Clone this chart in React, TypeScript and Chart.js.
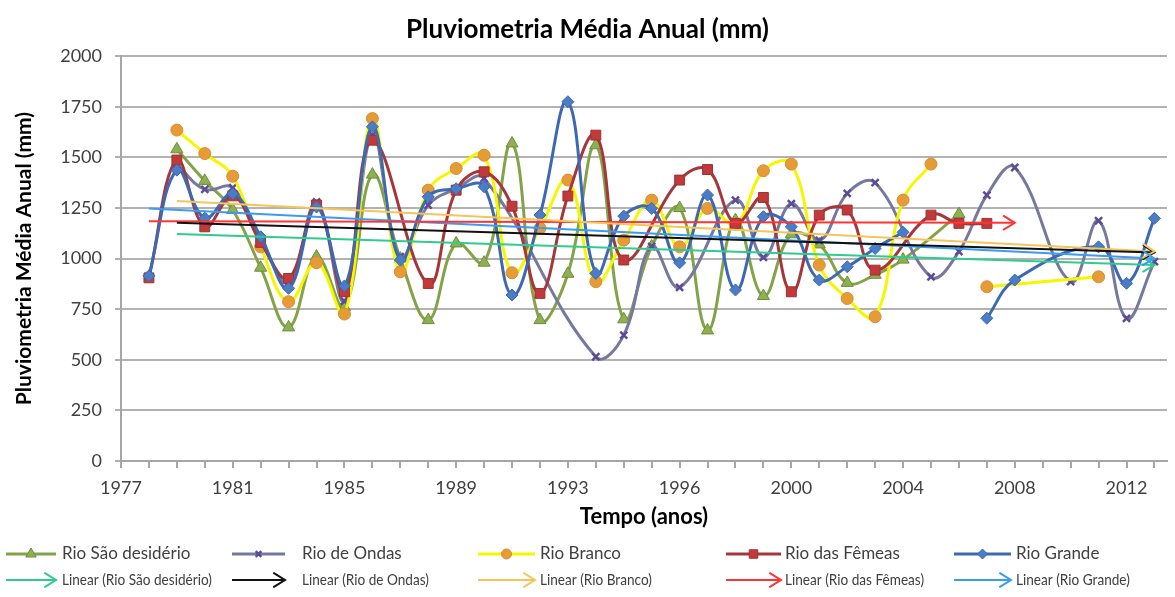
import React, { useEffect, useRef } from 'react';
import { Chart, registerables } from 'chart.js';
import { drawPoint } from 'chart.js/helpers';

Chart.register(...registerables);

// U = no reading for that year: the drawn line simply continues over it.
// null = gap in the series: the line breaks.
const U = undefined;

// One category per tick mark on the time axis (the source axis has an extra step between 1993 and 1996).
const categories = [
  '1977', '1978', '1979', '1980', '1981', '1982', '1983', '1984', '1985', '1986',
  '1987', '1988', '1989', '1990', '1991', '1992', '1993', '1994', '1995', '1995',
  '1996', '1997', '1998', '1999', '2000', '2001', '2002', '2003', '2004', '2005',
  '2006', '2007', '2008', '2009', '2010', '2011', '2012', '2013',
];

const seriesNames = ['Rio São desidério', 'Rio de Ondas', 'Rio Branco', 'Rio das Fêmeas', 'Rio Grande'];

const rioSaoDesiderio = [
  U, U, 1540, 1384, 1240, 955, 660, 1010, 760, 1415,
  1000, 696, 1075, 980, 1569, 696, 925, 1560, 700, 1060,
  1250, 645, 1190, 815, 1120, 1070, 880, 920, 995, U,
  1220, U, U, U, U, U, U, U,
];

const rioDeOndas = [
  U, U, 1465, 1342, 1350, 1090, 880, 1280, 790, 1610,
  1010, 1264, 1345, 1396, U, U, U, 515, 622, 1060,
  858, U, 1289, 1006, 1272, 1090, 1322, 1375, U, 910,
  1035, 1314, 1450, U, 886, 1187, 705, 985,
];

const rioBranco = [
  U, U, 1635, 1519, 1407, 1058, 787, 980, 726, 1692,
  935, 1338, 1445, 1511, 930, 1150, 1388, 886, 1091, 1289,
  1058, 1248, 1170, 1434, 1467, 968, 803, 713, 1289, 1467,
  null, 861, U, U, U, 910, U, U,
];

const rioDasFemeas = [
  U, 905, 1487, 1157, 1310, 1080, 902, 1265, 836, 1585,
  U, 877, 1338, 1429, 1259, 828, 1309, 1610, 993, U,
  1388, 1440, 1174, 1302, 836, 1215, 1240, 943, U, 1215,
  1174, 1174, U, U, U, U, U, U,
];

const rioGrande = [
  U, 915, 1437, 1200, 1320, 1108, 853, 1255, 865, 1651,
  993, 1305, 1345, 1355, 820, 1215, 1775, 927, 1210, 1248,
  979, 1314, 845, 1207, 1157, 894, 960, 1050, 1130, null,
  null, 705, 894, U, U, 1058, 878, 1199,
];

// Linear trend lines (start / end of each arrow)
const trendNames = seriesNames.map((n) => `Linear (${n})`);
const trendStartYear = ['1979', '1979', '1979', '1978', '1978'];
const trendEndYear = ['2013', '2013', '2013', '2008', '2013'];
const trendStartValue = [1121, 1177, 1285, 1185, 1248];
const trendEndValue = [968, 1030, 1035, 1177, 1000];

const yTicks = { min: 0, max: 2000, step: 250 };

const seriesValues = [rioSaoDesiderio, rioDeOndas, rioBranco, rioDasFemeas, rioGrande];

const seriesStyle = [
  { line: '#84A348', fill: '#8DB151', border: '#6F8C3C', point: 'triangle', radius: 7, bw: 1 },
  { line: '#77789F', fill: '#5C4B96', border: '#5C4B96', point: 'crossRot', radius: 5, bw: 2.5 },
  { line: '#F6F600', fill: '#E59C37', border: '#D88C2C', point: 'circle', radius: 6, bw: 1 },
  { line: '#A5373A', fill: '#C0393B', border: '#A3302F', point: 'rect', radius: 7, bw: 1 },
  { line: '#3D69B2', fill: '#4A7DC6', border: '#3A68AE', point: 'rectRot', radius: 6, bw: 1 },
];
const trendColors = ['#2FCB8F', '#111111', '#F5C45A', '#FF3434', '#3A9BF0'];
const drawOrder = [5, 4, 3, 2, 1];

const FONT = 'Lato';

function toPoints(values: (number | null | undefined)[]) {
  const pts: { x: number; y: number | null }[] = [];
  values.forEach((v, i) => {
    if (v !== undefined) pts.push({ x: i, y: v });
  });
  return pts;
}

function drawArrowHead(ctx: CanvasRenderingContext2D, x: number, y: number, angle: number, color: string, width: number) {
  const L = 13;
  const spread = 0.55;
  ctx.save();
  ctx.strokeStyle = color;
  ctx.lineWidth = width;
  ctx.lineCap = 'round';
  ctx.beginPath();
  ctx.moveTo(x - L * Math.cos(angle - spread), y - L * Math.sin(angle - spread));
  ctx.lineTo(x, y);
  ctx.lineTo(x - L * Math.cos(angle + spread), y - L * Math.sin(angle + spread));
  ctx.stroke();
  ctx.restore();
}

const arrowPlugin = {
  id: 'trendArrows',
  afterDatasetsDraw(chart: any) {
    const ctx = chart.ctx as CanvasRenderingContext2D;
    chart.data.datasets.forEach((d: any, i: number) => {
      if (!d.isTrend) return;
      const pts = chart.getDatasetMeta(i).data;
      const a = pts[0];
      const b = pts[pts.length - 1];
      const ang = Math.atan2(b.y - a.y, b.x - a.x);
      drawArrowHead(ctx, b.x, b.y, ang, d.borderColor, 2);
    });
  },
};

// Legend laid out as a 5-column, 2-row grid like the source
const legendCols = [
  { x1: 6, x2: 56, tx: 62 },
  { x1: 232, x2: 285, tx: 302 },
  { x1: 478, x2: 535, tx: 540 },
  { x1: 726, x2: 781, tx: 785 },
  { x1: 954, x2: 1011, tx: 1016 },
];
const legendRows = [554, 580];

const legendPlugin = {
  id: 'gridLegend',
  afterDraw(chart: any) {
    const ctx = chart.ctx as CanvasRenderingContext2D;
    const ds = chart.data.datasets;
    ctx.save();
    legendCols.forEach((col, c) => {
      // row 1: series
      const s = ds[c];
      let y = legendRows[0];
      ctx.strokeStyle = s.borderColor;
      ctx.lineWidth = 3;
      ctx.beginPath();
      ctx.moveTo(col.x1, y);
      ctx.lineTo(col.x2, y);
      ctx.stroke();
      ctx.fillStyle = s.pointBackgroundColor;
      ctx.strokeStyle = s.pointBorderColor;
      ctx.lineWidth = s.pointBorderWidth;
      drawPoint(ctx, { pointStyle: s.pointStyle, radius: s.pointRadius - 1, borderWidth: s.pointBorderWidth, rotation: 0 } as any, (col.x1 + col.x2) / 2, y);
      ctx.fillStyle = '#404040';
      ctx.font = `17px ${FONT}`;
      ctx.textBaseline = 'middle';
      ctx.textAlign = 'left';
      ctx.fillText(s.label, col.tx, y);
      // row 2: trend
      const t = ds[c + 5];
      y = legendRows[1];
      ctx.strokeStyle = t.borderColor;
      ctx.lineWidth = 2;
      ctx.beginPath();
      ctx.moveTo(col.x1, y);
      ctx.lineTo(col.x2, y);
      ctx.stroke();
      drawArrowHead(ctx, col.x2, y, 0, t.borderColor, 2);
      ctx.save();
      ctx.translate(col.tx, y);
      ctx.scale(0.85, 1);
      ctx.fillStyle = '#404040';
      ctx.font = `16px ${FONT}`;
      ctx.fillText(t.label, 0, 0);
      ctx.restore();
    });
    ctx.restore();
  },
};

export default function App() {
  const ref = useRef<HTMLCanvasElement>(null);

  useEffect(() => {
    const seriesSets = seriesValues.map((vals, i) => ({
      label: seriesNames[i],
      data: toPoints(vals),
      borderColor: seriesStyle[i].line,
      backgroundColor: seriesStyle[i].fill,
      borderWidth: 3,
      tension: 0.4,
      spanGaps: false,
      pointStyle: seriesStyle[i].point,
      pointRadius: seriesStyle[i].radius,
      pointBackgroundColor: seriesStyle[i].fill,
      pointBorderColor: seriesStyle[i].border,
      pointBorderWidth: seriesStyle[i].bw,
      order: drawOrder[i],
      isTrend: false,
    }));
    const trendSets = trendNames.map((name, i) => ({
      label: name,
      data: [
        { x: categories.indexOf(trendStartYear[i]), y: trendStartValue[i] },
        { x: categories.indexOf(trendEndYear[i]), y: trendEndValue[i] },
      ],
      borderColor: trendColors[i],
      backgroundColor: trendColors[i],
      borderWidth: 2,
      tension: 0,
      pointRadius: 0,
      order: 0,
      isTrend: true,
    }));

    const chart = new Chart(ref.current as HTMLCanvasElement, {
      type: 'line',
      data: { datasets: [...seriesSets, ...trendSets] as any },
      options: {
        responsive: false,
        animation: false,
        layout: { padding: { left: 0, right: 0, top: 0, bottom: 60 } },
        plugins: {
          legend: { display: false },
          tooltip: { enabled: false },
          title: {
            display: true,
            text: 'Pluviometria Média Anual (mm)',
            color: '#000',
            font: { family: FONT, size: 26, weight: 'bold' },
            padding: { top: 14, bottom: 11 },
          },
        },
        scales: {
          x: {
            type: 'linear',
            min: 0,
            max: categories.length - 1 + 0.45,
            afterBuildTicks: (s: any) => {
              s.ticks = categories.map((_, i) => ({ value: i }));
            },
            afterFit: (s: any) => {
              s.height = 76;
            },
            ticks: {
              autoSkip: false,
              maxRotation: 0,
              minRotation: 0,
              padding: 9,
              color: '#404040',
              font: { family: FONT, size: 18 },
              callback: (v: any) => (v % 4 === 0 ? categories[v] : ''),
            },
            grid: { drawOnChartArea: false, drawTicks: true, tickLength: 7, color: '#A6A6A6', lineWidth: 2 },
            border: { color: '#A6A6A6', width: 2 },
            title: {
              display: true,
              text: 'Tempo (anos)',
              color: '#000',
              font: { family: FONT, size: 22, weight: 'bold' },
              padding: { top: 0, bottom: 7 },
            },
          },
          y: {
            min: yTicks.min,
            max: yTicks.max,
            afterFit: (s: any) => {
              s.width = 121;
            },
            ticks: {
              stepSize: yTicks.step,
              padding: 13,
              color: '#404040',
              font: { family: FONT, size: 18 },
              callback: (v: any) => String(v),
            },
            grid: { color: '#B2B2B2', lineWidth: 2, tickLength: 6, drawTicks: true },
            border: { color: '#A6A6A6', width: 2 },
            title: {
              display: true,
              text: 'Pluviometria Média Anual (mm)',
              color: '#000',
              font: { family: FONT, size: 21, weight: 'bold' },
              padding: { top: 12, bottom: 0 },
            },
          },
        },
      } as any,
      plugins: [arrowPlugin, legendPlugin],
    });
    return () => chart.destroy();
  }, []);

  return (
    <div style={{ position: 'absolute', left: 0, top: 0, width: 1175, height: 597, background: '#fff' }}>
      <canvas ref={ref} width={1175} height={597} style={{ display: 'block' }} />
    </div>
  );
}
